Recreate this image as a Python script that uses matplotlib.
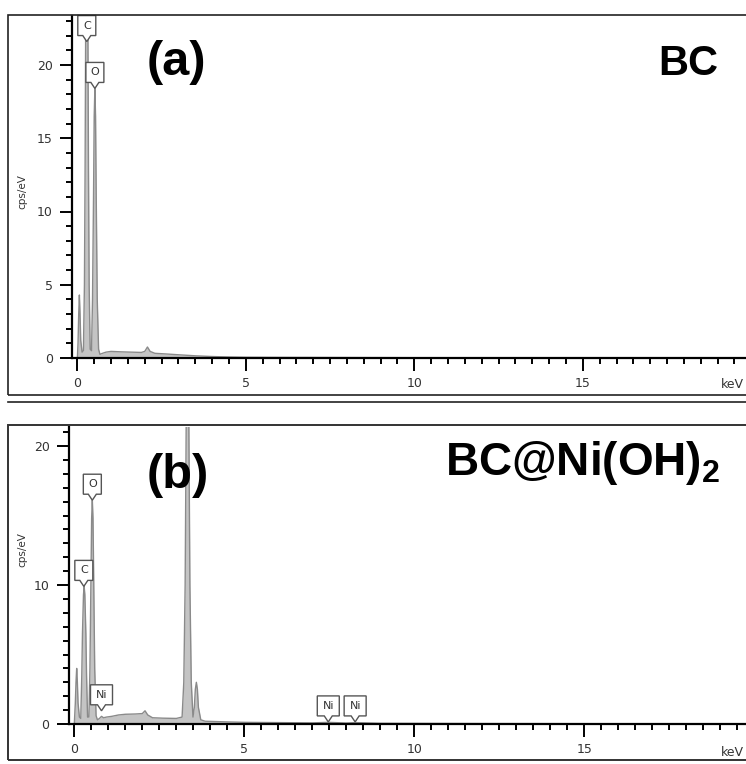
import numpy as np
import matplotlib.pyplot as plt
from matplotlib import transforms
from matplotlib.patches import Polygon, Rectangle
from matplotlib.ticker import MultipleLocator

plt.rcParams['mathtext.fontset'] = 'custom'
plt.rcParams['mathtext.rm'] = 'Liberation Sans:bold'

# spectrum (a) BC (keV, cps/eV)
energy_a = [0.0, 0.02, 0.04, 0.06, 0.08, 0.10, 0.14, 0.18, 0.21, 0.23, 0.26, 0.28,
            0.30, 0.33, 0.35, 0.38, 0.42, 0.45, 0.48, 0.50, 0.52, 0.54, 0.56, 0.59,
            0.63, 0.67, 0.72, 0.85, 1.0, 1.3, 1.6, 1.9, 2.0, 2.08, 2.16, 2.3, 2.6,
            3.0, 3.5, 4.0, 4.5, 5.0, 6.0, 8.0, 10.0, 15.0, 20.0]
counts_a = [0.0, 1.0, 3.0, 4.3, 3.0, 1.2, 0.4, 0.5, 5.0, 13.0, 30.0, 40.0,
            30.0, 13.0, 5.0, 0.6, 0.5, 4.0, 11.0, 16.5, 18.4, 16.5, 11.0, 4.0,
            0.6, 0.25, 0.3, 0.4, 0.45, 0.42, 0.4, 0.38, 0.45, 0.75, 0.45, 0.32, 0.28,
            0.22, 0.15, 0.1, 0.07, 0.05, 0.04, 0.03, 0.02, 0.01, 0.01]

# spectrum (b) BC@Ni(OH)2
energy_b = [0.0, 0.03, 0.05, 0.07, 0.09, 0.11, 0.15, 0.19, 0.22, 0.24, 0.27, 0.29,
            0.31, 0.34, 0.36, 0.39, 0.43, 0.46, 0.49, 0.51, 0.53, 0.55, 0.57, 0.60,
            0.64, 0.68, 0.74, 0.80, 0.86, 0.95, 1.1, 1.3, 1.5, 1.8, 2.0, 2.08, 2.16,
            2.3, 2.6, 3.0, 3.17, 3.22, 3.26, 3.30, 3.33, 3.36, 3.40, 3.44, 3.49,
            3.53, 3.56, 3.59, 3.62, 3.65, 3.72, 3.85, 4.5, 5.0, 6.0, 7.0, 7.47,
            8.0, 8.26, 9.0, 12.0, 16.0, 20.0]
counts_b = [0.0, 1.5, 3.0, 4.0, 3.0, 1.5, 0.5, 0.4, 3.5, 6.5, 9.3, 9.9,
            9.3, 6.5, 3.5, 0.5, 0.5, 4.0, 10.5, 14.8, 16.1, 14.8, 10.5, 4.0,
            0.6, 0.3, 0.4, 0.55, 0.45, 0.5, 0.55, 0.65, 0.7, 0.72, 0.75, 0.95, 0.65,
            0.45, 0.42, 0.4, 0.5, 3.0, 10.0, 25.0, 40.0, 25.0, 10.0, 3.0, 0.5,
            1.2, 2.5, 3.0, 2.5, 1.2, 0.3, 0.2, 0.15, 0.12, 0.1, 0.08, 0.12,
            0.07, 0.1, 0.05, 0.03, 0.02, 0.01]

labels_a = ['C', 'O']
label_x_a = [0.28, 0.52]
label_y_a = [21.6, 18.4]

labels_b = ['C', 'O', 'Ni', 'Ni', 'Ni']
label_x_b = [0.28, 0.53, 0.80, 7.47, 8.26]
label_y_b = [9.9, 16.1, 0.95, 0.15, 0.15]

W, H = 746, 764
fig = plt.figure(figsize=(W / 100, H / 100), dpi=100)


def px_axes(left, y0, top):
    return fig.add_axes([left / W, 1 - y0 / H, 1 - left / W, (y0 - top) / H])


def peak_label(ax, x, y, text):
    w = 22 if len(text) > 1 else 18
    h, p = 20, 6
    tr = fig.dpi_scale_trans + transforms.ScaledTranslation(x, y, ax.transData)
    v = np.array([[-w / 2, p], [-4, p], [0, 0], [4, p], [w / 2, p],
                  [w / 2, p + h], [-w / 2, p + h]]) / 100
    ax.add_patch(Polygon(v, closed=True, transform=tr, fc='white', ec='#555555',
                         lw=1, zorder=5, clip_on=False))
    ax.text(0, (p + h / 2) / 100, text, transform=tr, ha='center', va='center',
            fontsize=8, color='#333333', zorder=6, clip_on=False)


def style(ax, ymajor):
    for s in ['top', 'right']:
        ax.spines[s].set_visible(False)
    for s in ['left', 'bottom']:
        ax.spines[s].set_linewidth(1.6)
    ax.xaxis.set_major_locator(MultipleLocator(5))
    ax.xaxis.set_minor_locator(MultipleLocator(0.5))
    ax.yaxis.set_major_locator(MultipleLocator(ymajor))
    ax.yaxis.set_minor_locator(MultipleLocator(1))
    ax.tick_params(which='major', length=9, width=1.4, labelsize=9,
                   labelcolor='#333333', pad=5)
    ax.tick_params(which='minor', length=4.5, width=1.4)
    ax.set_facecolor('none')


# panel (a)
ax_a = px_axes(72.3, 358, 16)
ax_a.fill_between(energy_a, counts_a, color='#c4c4c4', lw=0)
ax_a.plot(energy_a, counts_a, color='#8a8a8a', lw=1)
ax_a.set_xlim(-0.15, (W - 77.3) / 33.7)
ax_a.set_ylim(0, 342 / 14.65)
style(ax_a, 5)
for t, x, y in zip(labels_a, label_x_a, label_y_a):
    peak_label(ax_a, x, y, t)

# panel (b)
ax_b = px_axes(69, 724, 427)
ax_b.fill_between(energy_b, counts_b, color='#c4c4c4', lw=0)
ax_b.plot(energy_b, counts_b, color='#8a8a8a', lw=1)
ax_b.set_xlim(-0.156, (W - 74.3) / 34)
ax_b.set_ylim(0, 297 / 13.9)
style(ax_b, 10)
for t, x, y in zip(labels_b, label_x_b, label_y_b):
    peak_label(ax_b, x, y, t)

# axis titles
fig.text(22 / W, 1 - 192 / H, 'cps/eV', rotation=90, fontsize=7.5,
         color='#333333', ha='center', va='center')
fig.text(22 / W, 1 - 550 / H, 'cps/eV', rotation=90, fontsize=7.5,
         color='#333333', ha='center', va='center')
fig.text(744 / W, 1 - 385 / H, 'keV', fontsize=9, color='#333333',
         ha='right', va='center')
fig.text(744 / W, 1 - 752 / H, 'keV', fontsize=9, color='#333333',
         ha='right', va='center')

# panel names
fig.text(147 / W, 1 - 75 / H, '(a)', fontsize=35, fontweight='bold',
         family='Liberation Sans', va='baseline')
fig.text(718 / W, 1 - 75 / H, 'BC', fontsize=30, fontweight='bold',
         family='Liberation Sans', ha='right', va='baseline')
fig.text(147 / W, 1 - 488 / H, '(b)', fontsize=35, fontweight='bold',
         family='Liberation Sans', va='baseline')
fig.text(720 / W, 1 - 475 / H, r'BC@Ni(OH)$_\mathregular{2}$', fontsize=33,
         fontweight='bold', family='Liberation Sans', ha='right', va='baseline')

# panel frames
fig.add_artist(Rectangle((8 / W, 1 - 395 / H), 1, (395 - 15) / H,
                         transform=fig.transFigure, fill=False, ec='#222222', lw=1.2))
fig.add_artist(plt.Line2D([8 / W, 1], [1 - 402 / H] * 2, transform=fig.transFigure,
                          color='#222222', lw=1.2))
fig.add_artist(Rectangle((8 / W, 1 - 760 / H), 1, (760 - 425) / H,
                         transform=fig.transFigure, fill=False, ec='#333333', lw=1.4))

fig.savefig('out.png', dpi=100)
